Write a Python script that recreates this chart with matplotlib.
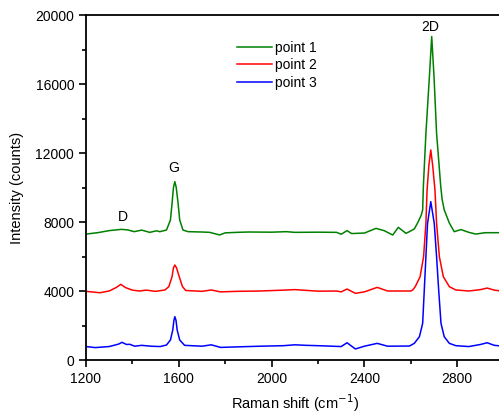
import matplotlib
matplotlib.use('Agg')
import matplotlib.pyplot as plt
from matplotlib.ticker import MultipleLocator

plt.rcParams['font.family'] = ['Liberation Sans', 'DejaVu Sans']

# Raman shift / intensity pairs
shift_1 = [1200, 1250, 1300, 1353, 1380, 1408, 1440, 1475, 1504, 1518, 1547, 1564, 1571, 1577, 1583,
           1589, 1597, 1604, 1618, 1640, 1700, 1733, 1776, 1800, 1850, 1900, 2000, 2063, 2100, 2200,
           2280, 2300, 2325, 2345, 2400, 2450, 2485, 2522, 2546, 2579, 2594, 2615, 2629, 2645, 2651,
           2654, 2665, 2680, 2690, 2700, 2711, 2729, 2735, 2744, 2766, 2787, 2816, 2850, 2880, 2920, 3000]
counts_1 = [7300, 7380, 7500, 7575, 7540, 7440, 7530, 7400, 7490, 7440, 7535, 8115, 9080, 10000, 10340,
            10000, 9080, 8115, 7535, 7440, 7420, 7400, 7250, 7370, 7400, 7420, 7410, 7440, 7400, 7410,
            7400, 7290, 7500, 7330, 7360, 7630, 7500, 7245, 7690, 7345, 7440, 7600, 7940, 8400, 8700,
            10050, 13140, 16420, 18750, 16420, 13140, 10050, 9300, 8700, 7940, 7440, 7560, 7400, 7300, 7380, 7380]

shift_2 = [1200, 1260, 1300, 1330, 1350, 1370, 1400, 1430, 1460, 1500, 1540, 1557, 1571, 1577, 1583,
           1590, 1602, 1616, 1630, 1700, 1740, 1780, 1850, 1950, 2050, 2100, 2200, 2280, 2300, 2325,
           2361, 2400, 2455, 2500, 2600, 2608, 2619, 2640, 2655, 2665, 2670, 2678, 2686, 2694, 2704,
           2711, 2723, 2740, 2766, 2794, 2850, 2900, 2929, 2960, 3000]
counts_2 = [3980, 3900, 4000, 4200, 4385, 4200, 4050, 4000, 4050, 3980, 4060, 4250, 4830, 5350, 5507,
            5350, 4830, 4250, 4030, 3980, 4060, 3950, 3980, 4000, 4050, 4080, 3990, 4000, 3950, 4115,
            3865, 3950, 4210, 4000, 4000, 4060, 4250, 4830, 5990, 7920, 9855, 11300, 12175, 11300, 9855,
            7920, 5990, 4830, 4250, 4060, 4000, 4080, 4170, 4050, 3980]

shift_3 = [1200, 1240, 1300, 1340, 1355, 1375, 1389, 1410, 1440, 1480, 1520, 1547, 1564, 1574, 1579,
           1583, 1588, 1593, 1604, 1625, 1700, 1740, 1780, 1850, 1950, 2050, 2100, 2150, 2200, 2280,
           2300, 2325, 2361, 2400, 2455, 2500, 2594, 2615, 2637, 2651, 2658, 2665, 2672, 2686, 2701,
           2711, 2720, 2730, 2744, 2766, 2794, 2850, 2900, 2929, 2960, 3000]
counts_3 = [780, 720, 780, 920, 1025, 900, 910, 800, 850, 800, 780, 870, 1160, 1740, 2300,
            2510, 2300, 1740, 1160, 850, 800, 880, 730, 760, 800, 830, 880, 850, 830, 790,
            780, 1000, 640, 800, 965, 800, 810, 965, 1350, 2125, 4060, 5990, 7920, 9180, 7920,
            5990, 4060, 2125, 1350, 965, 830, 780, 900, 1000, 850, 800]

series_labels = ['point 1', 'point 2', 'point 3']
peak_labels = ['D', 'G', '2D']
peak_positions = [(1359, 8290), (1578, 11130), (2684, 19300)]

fig = plt.figure(figsize=(4.99, 4.19), dpi=100)
ax = fig.add_axes([0.1723, 0.1408, 0.837, 0.8234])

ax.plot(shift_1, counts_1, color='#008000', lw=1.1, label=series_labels[0])
ax.plot(shift_2, counts_2, color='#ff0000', lw=1.1, label=series_labels[1])
ax.plot(shift_3, counts_3, color='#0000ff', lw=1.1, label=series_labels[2])

for text, (px, py) in zip(peak_labels, peak_positions):
    ax.text(px, py, text, ha='center', va='center', fontsize=10)

ax.set_xlim(1200, 3000)
ax.set_ylim(0, 20000)
ax.xaxis.set_major_locator(MultipleLocator(400))
ax.xaxis.set_minor_locator(MultipleLocator(200))
ax.yaxis.set_major_locator(MultipleLocator(4000))
ax.yaxis.set_minor_locator(MultipleLocator(2000))
ax.tick_params(which='major', direction='out', length=5, width=1.2, labelsize=10, top=False, right=False)
ax.tick_params(which='minor', direction='out', length=3, width=1.2, top=False, right=False)
for sp in ax.spines.values():
    sp.set_linewidth(1.3)

ax.set_xlabel('Raman shift (cm$^{-1}$)', fontsize=10.5, labelpad=5)
ax.set_ylabel('Intensity (counts)', fontsize=10.5, labelpad=8)

ax.legend(loc='upper left', bbox_to_anchor=(0.345, 0.946), frameon=False, fontsize=10,
          handlelength=2.5, handletextpad=0.2, labelspacing=0.25, borderpad=0)

fig.savefig('out.png', dpi=100)
